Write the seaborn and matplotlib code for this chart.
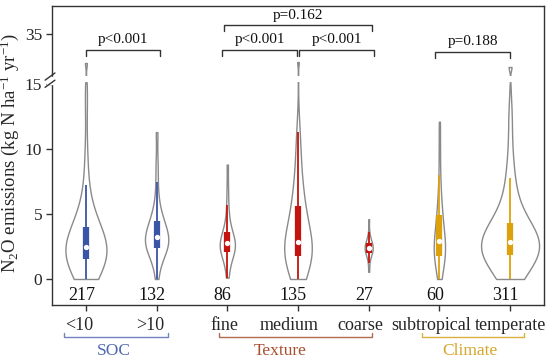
import numpy as np
import pandas as pd
import matplotlib
matplotlib.use("Agg")
import matplotlib.pyplot as plt
import matplotlib.transforms as mtransforms
from matplotlib.cbook import boxplot_stats
import seaborn as sns

# ---------------- data ----------------
categories = ["<10", ">10", "fine", "medium", "coarse", "subtropical", "temperate"]
counts = [217, 132, 86, 135, 27, 60, 311]
cat_group = ["SOC", "SOC", "Texture", "Texture", "Texture", "Climate", "Climate"]

soc_lt10 = [0.0, 0.2, 0.4, 0.7, 0.9, 1.1, 1.3, 1.5, 1.6, 1.8, 1.9, 2.0, 2.1, 2.2, 2.3, 2.4,
            2.5, 2.6, 2.8, 3.0, 3.2, 3.4, 3.7, 3.9, 4.2, 4.6, 5.1, 5.8, 7.2, 9.5, 14.0, 23.4]
soc_gt10 = [0.0, 0.8, 1.4, 1.8, 2.0, 2.1, 2.2, 2.3, 2.5, 2.7, 2.8, 2.9, 3.0, 3.1, 3.2, 3.3,
            3.4, 3.5, 3.7, 3.9, 4.1, 4.3, 4.5, 4.7, 5.0, 5.5, 6.2, 7.5, 9.0, 11.3]
tex_fine = [0.1, 0.8, 1.3, 1.7, 1.9, 2.0, 2.1, 2.3, 2.4, 2.5, 2.6, 2.7, 2.8, 2.9, 3.0, 3.2,
            3.4, 3.6, 3.8, 4.2, 4.8, 5.7, 7.0, 8.8]
tex_medium = [0.0, 0.3, 0.6, 0.9, 1.1, 1.3, 1.5, 1.6, 1.8, 2.0, 2.2, 2.4, 2.5, 2.6, 2.7, 2.8,
              2.9, 3.2, 3.5, 3.9, 4.3, 4.7, 5.1, 5.5, 5.9, 6.4, 7.0, 7.8, 8.8, 10.2, 11.3, 23.8]
tex_coarse = [0.55, 1.2, 1.6, 1.8, 1.9, 2.0, 2.1, 2.2, 2.3, 2.35, 2.4, 2.45, 2.5, 2.6, 2.7,
              2.8, 2.9, 3.0, 3.2, 3.6, 4.6]
cli_subtrop = [0.0, 0.6, 0.9, 1.2, 1.5, 1.7, 1.8, 2.0, 2.3, 2.5, 2.7, 2.8, 2.9, 3.1, 3.4,
               3.8, 4.2, 4.6, 4.9, 5.3, 5.9, 6.8, 8.0, 10.0, 12.1]
cli_temp = [0.0, 0.3, 0.6, 0.9, 1.2, 1.4, 1.6, 1.8, 1.9, 2.1, 2.3, 2.4, 2.5, 2.6, 2.7, 2.8,
            2.9, 3.0, 3.2, 3.4, 3.6, 3.8, 4.0, 4.2, 4.6, 5.2, 5.9, 6.8, 7.8, 9.5, 12.5, 21.8]
series = [soc_lt10, soc_gt10, tex_fine, tex_medium, tex_coarse, cli_subtrop, cli_temp]

# group annotations
group_names = ["SOC", "Texture", "Climate"]
group_span = [(-0.31, 1.16), (1.88, 4.05), (4.76, 6.20)]
group_text_x = [0.40, 2.75, 5.43]

pval_text = ["p<0.001", "p=0.162", "p<0.001", "p<0.001", "p=0.188"]
pval_span = [(0.0, 1.05), (1.95, 4.05), (1.93, 2.99), (3.02, 4.07), (4.94, 6.0)]
pval_level = [0.853, 0.936, 0.853, 0.853, 0.846]

ytick_vals = [0, 5, 10, 15, 35]

# ---------------- style ----------------
group_color = {"SOC": "#3A55A6", "Texture": "#C3140F", "Climate": "#DDA10C"}
group_text_color = {"SOC": "#4F68AE", "Texture": "#A8502E", "Climate": "#D6A52A"}
group_line_color = {"SOC": "#7184BE", "Texture": "#B46A4C", "Climate": "#D8B040"}
violin_width = [0.58, 0.33, 0.215, 0.39, 0.115, 0.16, 0.82]
xlabel_shift_px = [-7, -6, -3, -9, -8, -8, 0]
count_shift = -0.065

sns.set_style("ticks")
plt.rcParams["font.family"] = ["Liberation Serif", "DejaVu Serif"]
plt.rcParams["mathtext.fontset"] = "custom"
plt.rcParams["mathtext.rm"] = "Liberation Serif"
plt.rcParams["mathtext.it"] = "Liberation Serif:italic"
plt.rcParams["mathtext.bf"] = "Liberation Serif:bold"

fig = plt.figure(figsize=(5.5, 3.62), dpi=100)
ax = fig.add_axes([52 / 550, 1 - 305 / 362, 492 / 550, 299 / 362])

df = pd.DataFrame({
    "category": np.concatenate([[c] * len(s) for c, s in zip(categories, series)]),
    "value": np.concatenate(series),
})

for i, cat in enumerate(categories):
    sub = df[df["category"] == cat]
    sns.violinplot(data=sub, x="category", y="value", order=categories, ax=ax,
                   color="white", linecolor="#8a8a8a", linewidth=1.0, inner=None,
                   cut=0, density_norm="width", width=violin_width[i], bw_adjust=0.75,
                   saturation=1)

# inner box (whiskers, IQR bar, median dot) in group colour
for i, (cat, s) in enumerate(zip(categories, series)):
    st = boxplot_stats(np.asarray(s))[0]
    col = group_color[cat_group[i]]
    ax.plot([i, i], [st["whislo"], st["whishi"]], color=col, lw=1.3,
            solid_capstyle="butt", zorder=3)
    ax.plot([i, i], [st["q1"], st["q3"]], color=col, lw=4.5,
            solid_capstyle="butt", zorder=3)
    ax.plot([i], [st["med"]], marker="o", ms=2.8, mfc="white", mec="white", zorder=4)

# broken y-axis (0-15 linear, compressed above 15)
k = 2.5 / 13.0


def fwd(y):
    y = np.asarray(y, dtype=float)
    return np.where(y <= 15, y, 15 + (y - 15) * k)


def inv(y):
    y = np.asarray(y, dtype=float)
    return np.where(y <= 15, y, 15 + (y - 15) / k)


ax.set_yscale("function", functions=(fwd, inv))
ax.set_ylim(-2.0, 46.2)
ax.set_xlim(-0.48, 6.48)
ax.set_yticks(ytick_vals)
ax.set_yticklabels([str(v) for v in ytick_vals])
ax.yaxis.set_minor_locator(matplotlib.ticker.NullLocator())

# white band at the break
ax.axhspan(15.9, 18.4, color="white", zorder=2.2, lw=0)

# break marks on the left spine
brk = 0.752
trans_ax = ax.transAxes
ax.add_patch(plt.Rectangle((-0.01, brk - 0.012), 0.02, 0.024, transform=trans_ax,
                           color="white", clip_on=False, zorder=5))
for dy in (-0.012, 0.012):
    ax.plot([-0.014, 0.006], [brk + dy - 0.012, brk + dy + 0.012], transform=trans_ax,
            color="#333333", lw=1.0, clip_on=False, zorder=6)

# count labels
for i, n in enumerate(counts):
    ax.text(i + count_shift, -1.3, str(n), ha="center", va="center", fontsize=13,
            color="#111111")

# p-value brackets
btr = mtransforms.blended_transform_factory(ax.transData, ax.transAxes)
for txt, (x0, x1), lev in zip(pval_text, pval_span, pval_level):
    ax.plot([x0, x0, x1, x1], [lev - 0.02, lev, lev, lev - 0.02], transform=btr,
            color="#333333", lw=1.0, clip_on=False)
    ax.text((x0 + x1) / 2, lev + 0.012, txt, transform=btr, ha="center", va="bottom",
            fontsize=11, color="#111111")

# group brackets under the x labels
for g, (x0, x1), tx in zip(group_names, group_span, group_text_x):
    ax.plot([x0, x0, x1, x1], [-0.094, -0.107, -0.107, -0.094], transform=btr,
            color=group_line_color[g], lw=1.0, clip_on=False)
    ax.text(tx, -0.154, g, transform=btr, ha="center", va="center", fontsize=12.5,
            color=group_text_color[g])

ax.set_xlabel("")
ax.set_ylabel(r"N$_2$O emissions (kg N ha$^{-1}$ yr$^{-1}$)", fontsize=13.5)
ax.yaxis.set_label_coords(-0.062, 0.51)

for sp in ax.spines.values():
    sp.set_visible(True)
    sp.set_color("#333333")
    sp.set_linewidth(1.0)
ax.tick_params(axis="y", length=4, width=1, labelsize=12.5, pad=3, color="#333333")
ax.tick_params(axis="x", length=4, width=1, labelsize=13, pad=5, color="#333333")

for lab, dx in zip(ax.get_xticklabels(), xlabel_shift_px):
    lab.set_transform(lab.get_transform()
                      + mtransforms.ScaledTranslation(dx / 100, 0, fig.dpi_scale_trans))

fig.savefig("out.png", dpi=100, facecolor="white")
